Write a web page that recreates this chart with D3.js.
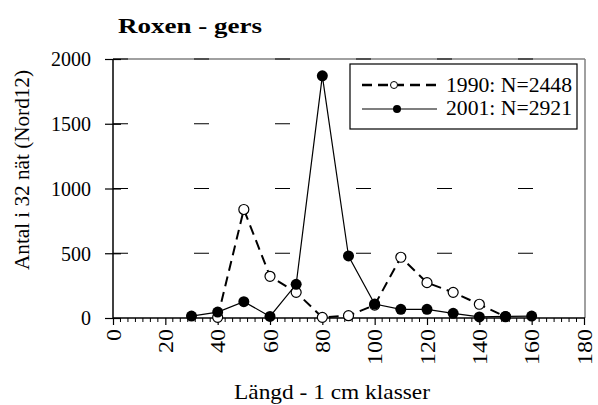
<!DOCTYPE html>
<html><head><meta charset="utf-8">
<script src="https://cdn.jsdelivr.net/npm/d3@7"></script>
<style>body{margin:0;background:#fff}svg{display:block}text{font-family:"Liberation Serif","Times New Roman",serif;fill:#000}</style>
</head><body>
<svg id="c" width="598" height="405"></svg>
<script>
const title = "Roxen - gers";
const xTitle = "Längd - 1 cm klasser";
const yTitle = "Antal i 32 nät (Nord12)";
const xTicks = [0,20,40,60,80,100,120,140,160,180];
const yTicks = [0,500,1000,1500,2000];
const x1990 = [40,50,60,70,80,90,100,110,120,130,140,150];
const y1990 = [5,838,322,198,5,18,100,469,273,198,106,10];
const x2001 = [30,40,50,60,70,80,90,100,110,120,130,140,150,160];
const y2001 = [15,46,126,12,260,1870,479,108,67,67,36,8,12,15];
const seriesNames = ["1990: N=2448","2001: N=2921"];

const svg = d3.select("#c");
const L=113,R=584,T=59,B=318;
const x = d3.scaleLinear().domain([0,180]).range([L,R]);
const y = d3.scaleLinear().domain([0,2000]).range([B,T]);
const FF = "Liberation Serif";

// plot border (grey)
svg.append("line").attr("x1",L).attr("x2",R+1).attr("y1",T).attr("y2",T).attr("stroke","#808080").attr("stroke-width",1.5);
svg.append("line").attr("x1",R+1).attr("x2",R+1).attr("y1",T).attr("y2",B).attr("stroke","#808080").attr("stroke-width",1.5);

// dashed gridlines
svg.append("g").selectAll("line").data(yTicks.filter(d=>d>0)).join("line")
  .attr("x1",L).attr("x2",R).attr("y1",d=>y(d)).attr("y2",d=>y(d))
  .attr("stroke","#000").attr("stroke-width",1.2).attr("stroke-dasharray","15,66");

// y axis
const ya = svg.append("g").attr("transform",`translate(${L},0)`)
  .call(d3.axisLeft(y).tickValues(yTicks).tickSize(8).tickFormat(d3.format("d")));
ya.select(".domain").remove();
ya.selectAll(".tick line").attr("x2",-8).attr("x1",8).attr("stroke-width",1.2);
ya.selectAll(".tick text").attr("font-size",20).attr("font-family",FF).attr("x",-22).attr("dy","0.34em");
svg.append("line").attr("x1",L).attr("x2",L).attr("y1",T).attr("y2",B+1).attr("stroke","#000").attr("stroke-width",1.5);

// x axis
const minor = d3.range(0,180+0.01,20/7).filter(v=>Math.abs(v/20-Math.round(v/20))>0.01);
svg.append("g").selectAll("line").data(minor).join("line")
  .attr("x1",d=>x(d)).attr("x2",d=>x(d)).attr("y1",B).attr("y2",B+4).attr("stroke","#000").attr("stroke-width",1);
const xa = svg.append("g").attr("transform",`translate(0,${B})`)
  .call(d3.axisBottom(x).tickValues(xTicks).tickSize(7).tickFormat(d3.format("d")));
xa.select(".domain").remove();
xa.selectAll(".tick line").attr("stroke-width",1.2);
xa.selectAll(".tick text").attr("font-size",20).attr("font-family",FF)
  .attr("transform","rotate(-90)").attr("text-anchor","end").attr("x",-11).attr("y",0).attr("dy","0.35em")
  .attr("textLength",d=>String(d).length*12).attr("lengthAdjust","spacingAndGlyphs");
svg.append("line").attr("x1",L).attr("x2",R+1).attr("y1",B).attr("y2",B).attr("stroke","#000").attr("stroke-width",1.5);

// series
const d90 = x1990.map((v,i)=>[v,y1990[i]]);
const d01 = x2001.map((v,i)=>[v,y2001[i]]);
const line = d3.line().x(d=>x(d[0])).y(d=>y(d[1]));
svg.append("path").datum(d90).attr("d",line).attr("fill","none").attr("stroke","#000").attr("stroke-width",2).attr("stroke-dasharray","10,6");
svg.append("path").datum(d01).attr("d",line).attr("fill","none").attr("stroke","#000").attr("stroke-width",1.2);
svg.append("g").selectAll("circle").data(d90).join("circle")
  .attr("cx",d=>x(d[0])).attr("cy",d=>y(d[1])).attr("r",5).attr("fill","#fff").attr("stroke","#000").attr("stroke-width",1.2);
svg.append("g").selectAll("circle").data(d01).join("circle")
  .attr("cx",d=>x(d[0])).attr("cy",d=>y(d[1])).attr("r",5.5).attr("fill","#000");

// legend
const lg = svg.append("g");
lg.append("rect").attr("x",350).attr("y",64).attr("width",227).attr("height",65).attr("fill","#fff").attr("stroke","#000").attr("stroke-width",1.2);
lg.append("line").attr("x1",362).attr("x2",437).attr("y1",85).attr("y2",85).attr("stroke","#000").attr("stroke-width",2.5).attr("stroke-dasharray","10,6");
lg.append("circle").attr("cx",394).attr("cy",85).attr("r",3.5).attr("fill","#fff").attr("stroke","#000");
lg.append("line").attr("x1",362).attr("x2",437).attr("y1",109).attr("y2",109).attr("stroke","#000").attr("stroke-width",1.2);
lg.append("circle").attr("cx",397).attr("cy",109).attr("r",4).attr("fill","#000");
lg.selectAll("text").data(seriesNames).join("text")
  .attr("x",446).attr("y",(d,i)=>92+i*23).attr("font-size",20)
  .attr("textLength",126).attr("lengthAdjust","spacingAndGlyphs").text(d=>d);

// titles
svg.append("text").attr("x",118).attr("y",33).attr("font-size",22).attr("font-weight","bold")
  .attr("textLength",144).attr("lengthAdjust","spacingAndGlyphs").text(title);
svg.append("text").attr("x",234).attr("y",399).attr("font-size",21)
  .attr("textLength",196).attr("lengthAdjust","spacingAndGlyphs").text(xTitle);
svg.append("text").attr("transform","translate(29,170) rotate(-90)").attr("text-anchor","middle").attr("font-size",21)
  .attr("textLength",200).attr("lengthAdjust","spacingAndGlyphs").text(yTitle);
</script>
</body></html>
